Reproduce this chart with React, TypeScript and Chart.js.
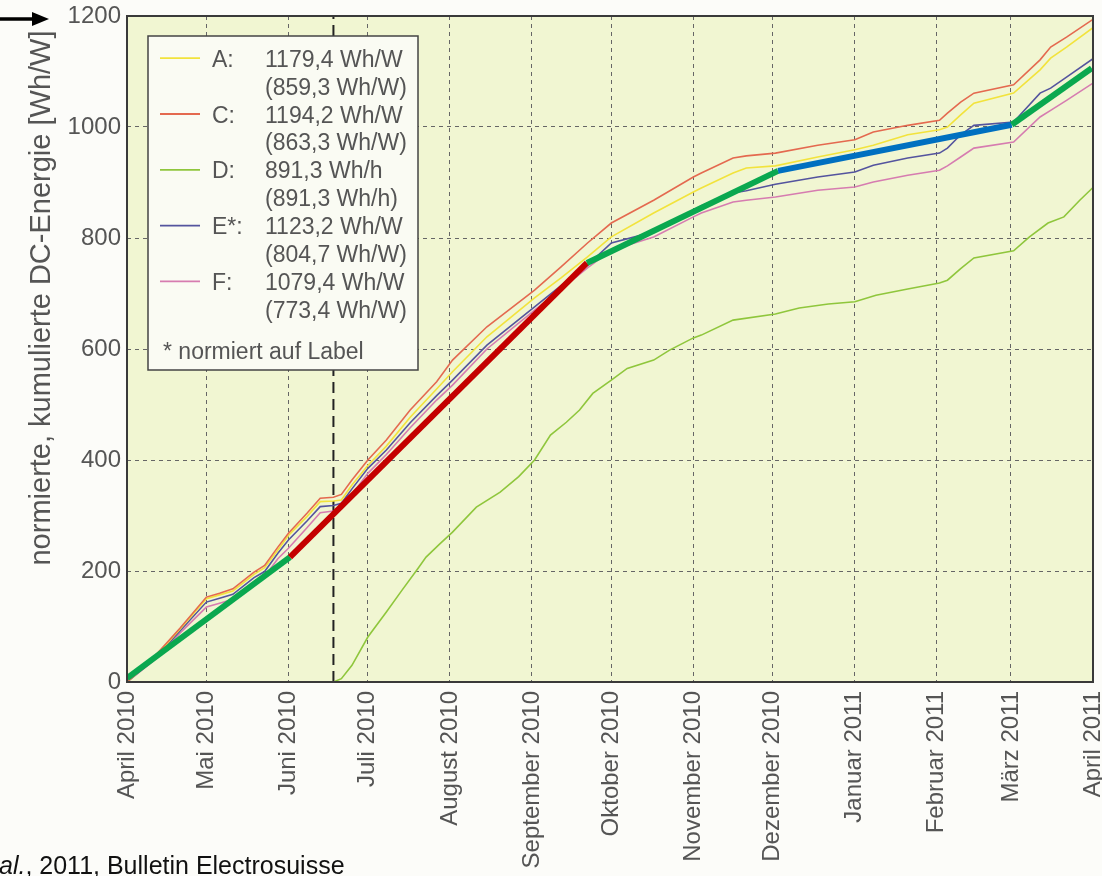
import React, { useEffect, useRef } from "react";
import { Chart, registerables } from "chart.js";

Chart.register(...registerables);

// ---- axis ticks ----
const monthTicks = [0, 30, 61, 91, 122, 153, 183, 214, 244, 275, 306, 334, 365];
const monthLabels = [
  "April 2010", "Mai 2010", "Juni 2010", "Juli 2010", "August 2010", "September 2010",
  "Oktober 2010", "November 2010", "Dezember 2010", "Januar 2011", "Februar 2011", "März 2011", "April 2011",
];
const yTicks = [0, 200, 400, 600, 800, 1000, 1200];

// ---- series (days since 1 April 2010) ----
const days = [0, 10, 20, 30, 35, 40, 48, 52, 57, 61, 68, 73, 78, 81, 85, 91, 98, 107, 117, 123, 136, 154, 164, 174, 183, 199, 214, 217, 229, 234, 245, 261, 275, 282, 295, 307, 310, 315, 320, 335, 345, 349, 355, 365];
const seriesC = [0, 44, 97, 153, 160, 168, 198, 210, 243, 268, 304, 331, 333, 338, 364, 400, 436, 490, 541, 580, 640, 706, 748, 791, 827, 868, 910, 917, 944, 948, 953, 967, 977, 991, 1003, 1012, 1025, 1045, 1061, 1076, 1121, 1144, 1162, 1194];
const seriesA = [0, 42, 95, 150, 157, 164, 194, 206, 238, 264, 298, 325, 326, 328, 355, 390, 425, 477, 528, 559, 622, 692, 728, 766, 802, 845, 883, 890, 917, 926, 930, 946, 959, 967, 986, 995, 1000, 1022, 1043, 1061, 1103, 1124, 1144, 1179];
const seriesE = [0, 40, 92, 144, 151, 158, 188, 199, 232, 256, 290, 316, 318, 322, 348, 385, 418, 467, 516, 544, 607, 676, 714, 751, 791, 811, 850, 858, 881, 885, 897, 910, 919, 931, 944, 953, 962, 986, 1003, 1009, 1061, 1070, 1090, 1123];
const seriesF = [0, 38, 88, 135, 142, 149, 180, 190, 222, 241, 278, 305, 308, 313, 338, 376, 410, 458, 508, 535, 600, 670, 708, 746, 778, 802, 838, 845, 865, 868, 874, 886, 892, 901, 913, 922, 930, 946, 962, 973, 1018, 1030, 1048, 1079];
const dDays = [78, 81, 85, 91, 98, 104, 110, 113, 118, 123, 132, 141, 148, 154, 160, 166, 171, 176, 183, 189, 199, 205, 214, 217, 229, 245, 254, 265, 275, 283, 295, 307, 310, 315, 320, 335, 341, 348, 354, 360, 365];
const seriesD = [0, 6, 30, 81, 126, 166, 205, 225, 248, 270, 315, 342, 370, 400, 445, 468, 490, 520, 544, 565, 580, 598, 620, 625, 652, 663, 674, 681, 685, 697, 708, 719, 724, 745, 764, 777, 802, 827, 838, 868, 891];

// ---- overlaid trend segments ----
const trendDays = [0, 61.6, 173.8, 246, 334.3, 364.5];
const trendValues = [7, 225, 755, 921, 1004, 1106];
const trendColors = ["#0aa84f", "#c40000", "#0aa84f", "#0070c0", "#0aa84f"];
const markerDay = 78;

// ---- legend ----
const legendKeys = ["A:", "C:", "D:", "E*:", "F:"];
const legendValues = ["1179,4 Wh/W", "1194,2 Wh/W", "891,3 Wh/h", "1123,2 Wh/W", "1079,4 Wh/W"];
const legendSubValues = ["(859,3 Wh/W)", "(863,3 Wh/W)", "(891,3 Wh/h)", "(804,7 Wh/W)", "(773,4 Wh/W)"];
const legendColors = ["#f2e33c", "#e4694f", "#8fc63c", "#54549e", "#d67cb0"];
const legendNote = "* normiert auf Label";
const yTitle = "normierte, kumulierte DC-Energie [Wh/W]";
const footItalic = "al.";
const footText = ", 2011, Bulletin Electrosuisse";

const FONT = '"Liberation Sans", Arial, Helvetica, sans-serif';
const TEXT = "#555555";
const PAGE_BG = "#fcfcf9";
const PLOT_BG = "#f1f6d2";

const decorPlugin = {
  id: "decor",
  beforeDraw(chart: any) {
    const { ctx, chartArea: a, width, height } = chart;
    ctx.save();
    ctx.fillStyle = PAGE_BG;
    ctx.fillRect(0, 0, width, height);
    ctx.fillStyle = PLOT_BG;
    ctx.fillRect(a.left, a.top, a.right - a.left, a.bottom - a.top);
    ctx.restore();
  },
  beforeDatasetsDraw(chart: any) {
    const { ctx, chartArea: a } = chart;
    const x = chart.scales.x.getPixelForValue(markerDay);
    ctx.save();
    ctx.strokeStyle = "#222";
    ctx.lineWidth = 2;
    ctx.setLineDash([11, 6]);
    ctx.beginPath();
    ctx.moveTo(x, a.bottom);
    ctx.lineTo(x, a.top);
    ctx.stroke();
    ctx.restore();
  },
  afterDraw(chart: any) {
    const { ctx, chartArea: a } = chart;
    ctx.save();
    // frame
    ctx.strokeStyle = "#3a3a3a";
    ctx.lineWidth = 2;
    ctx.strokeRect(a.left, a.top, a.right - a.left, a.bottom - a.top);

    // legend box
    const lx = 148, ly = 36, lw = 270, lh = 334;
    ctx.fillStyle = "#fafbf3";
    ctx.fillRect(lx, ly, lw, lh);
    ctx.strokeStyle = "#444";
    ctx.lineWidth = 1.5;
    ctx.strokeRect(lx, ly, lw, lh);
    ctx.font = `23px ${FONT}`;
    ctx.textBaseline = "alphabetic";
    ctx.textAlign = "left";
    const step = 27.9;
    for (let i = 0; i < legendKeys.length; i++) {
      const b1 = 66.7 + step * 2 * i;
      const b2 = b1 + step;
      ctx.strokeStyle = legendColors[i];
      ctx.lineWidth = 1.8;
      ctx.beginPath();
      ctx.moveTo(160, b1 - 8.5);
      ctx.lineTo(200, b1 - 8.5);
      ctx.stroke();
      ctx.fillStyle = TEXT;
      ctx.fillText(legendKeys[i], 212, b1);
      ctx.fillText(legendValues[i], 265, b1);
      ctx.fillText(legendSubValues[i], 265, b2);
    }
    ctx.fillText(legendNote, 163, 359);

    // y title
    ctx.save();
    ctx.translate(50, 298);
    ctx.rotate(-Math.PI / 2);
    ctx.font = `29px ${FONT}`;
    ctx.fillStyle = TEXT;
    ctx.textAlign = "center";
    ctx.fillText(yTitle, 0, 0);
    ctx.restore();

    // arrow
    ctx.fillStyle = "#000";
    ctx.strokeStyle = "#000";
    ctx.lineWidth = 3.5;
    ctx.beginPath();
    ctx.moveTo(0, 19);
    ctx.lineTo(36, 19);
    ctx.stroke();
    ctx.beginPath();
    ctx.moveTo(32, 12);
    ctx.lineTo(49, 19);
    ctx.lineTo(32, 26);
    ctx.closePath();
    ctx.fill();

    // footnote
    ctx.fillStyle = "#111";
    ctx.textAlign = "left";
    ctx.font = `italic 25px ${FONT}`;
    ctx.fillText(footItalic, -1, 874);
    const w = ctx.measureText(footItalic).width;
    ctx.font = `25px ${FONT}`;
    ctx.fillText(footText, -1 + w, 874);
    ctx.restore();
  },
};

export default function App() {
  const ref = useRef<HTMLCanvasElement | null>(null);
  useEffect(() => {
    if (!ref.current) return;
    const mk = (xs: number[], ys: number[]) => xs.map((x, i) => ({ x, y: ys[i] }));
    const line = (label: string, data: any, color: string, order: number) => ({
      label, data, borderColor: color, backgroundColor: color, borderWidth: 1.6,
      pointRadius: 0, tension: 0, fill: false, order,
    });
    const chart = new Chart(ref.current, {
      type: "line",
      data: {
        datasets: [
          {
            label: "trend",
            data: mk(trendDays, trendValues),
            borderColor: trendColors[0],
            borderWidth: 6,
            pointRadius: 0,
            tension: 0,
            fill: false,
            order: 0,
            segment: { borderColor: (c: any) => trendColors[c.p0DataIndex] },
          } as any,
          line("C", mk(days, seriesC), legendColors[1], 1),
          line("A", mk(days, seriesA), legendColors[0], 2),
          line("E*", mk(days, seriesE), legendColors[3], 3),
          line("F", mk(days, seriesF), legendColors[4], 4),
          line("D", mk(dDays, seriesD), legendColors[2], 5),
        ],
      },
      options: {
        responsive: false,
        animation: false,
        devicePixelRatio: 1,
        layout: { padding: { left: 0, top: 16, right: 9, bottom: 0 } },
        plugins: { legend: { display: false }, tooltip: { enabled: false } },
        scales: {
          x: {
            type: "linear",
            min: 0,
            max: 365,
            afterBuildTicks: (axis: any) => {
              axis.ticks = monthTicks.map((v) => ({ value: v }));
            },
            afterFit: (s: any) => {
              s.height = 876 - 682;
              s.paddingLeft = 0;
              s.paddingRight = 0;
            },
            ticks: {
              autoSkip: false,
              maxRotation: 90,
              minRotation: 90,
              padding: 9,
              color: TEXT,
              font: { family: FONT, size: 24 },
              callback: (v: any) => monthLabels[monthTicks.indexOf(Number(v))] ?? "",
            },
            grid: { color: "#666", lineWidth: 1, drawTicks: false },
            border: { display: false, dash: [4, 4] },
          },
          y: {
            min: 0,
            max: 1200,
            afterBuildTicks: (axis: any) => {
              axis.ticks = yTicks.map((v) => ({ value: v }));
            },
            afterFit: (s: any) => {
              s.width = 127;
              s.paddingTop = 0;
              s.paddingBottom = 0;
            },
            ticks: {
              padding: 6,
              color: TEXT,
              font: { family: FONT, size: 24 },
              callback: (v: any) => String(v),
            },
            grid: { color: "#666", lineWidth: 1, drawTicks: false },
            border: { display: false, dash: [4, 4] },
          },
        },
      },
      plugins: [decorPlugin],
    } as any);
    return () => chart.destroy();
  }, []);
  return (
    <div style={{ position: "absolute", left: 0, top: 0, width: 1102, height: 876, background: PAGE_BG }}>
      <canvas ref={ref} width={1102} height={876} style={{ display: "block", width: 1102, height: 876 }} />
    </div>
  );
}
